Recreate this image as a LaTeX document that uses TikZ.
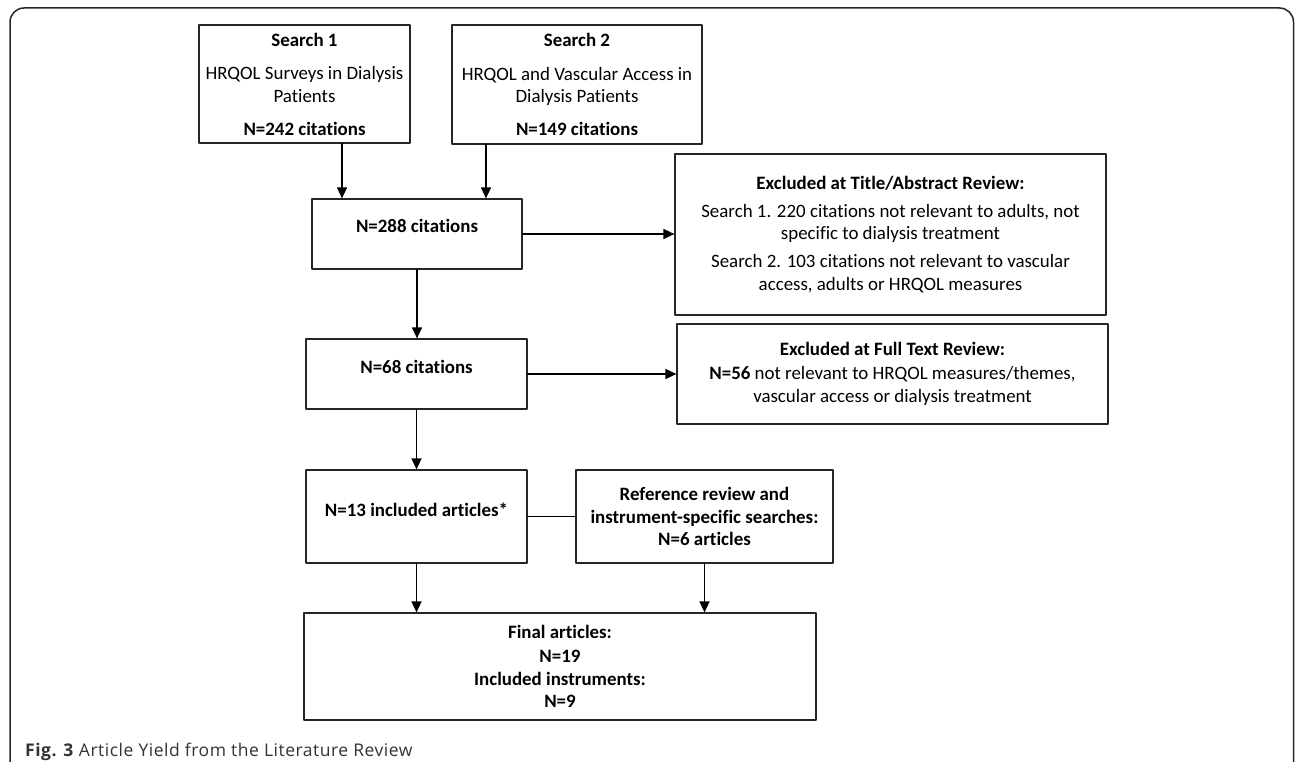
\documentclass[tikz,border=0pt]{standalone}
\usepackage{fontspec}
\setmainfont{Carlito}[Ligatures={NoCommon,TeX}]
\newfontfamily\figcapfont{Open Sans}[LetterSpace=3]
\usetikzlibrary{arrows.meta}

\tikzset{
  flowbox/.style={draw=black!85, line width=1.2pt, inner sep=0pt, align=center,
    font=\fontsize{18.9}{22.5}\selectfont},
  hightext/.style={text height=13pt, text depth=#1},
  flowarrow/.style={->, line width=1.5pt},
}

\begin{document}
\begin{tikzpicture}[x=1pt,y=-1pt,line cap=round,line join=round,>={Triangle[length=11pt,width=10pt]}]
        \useasboundingbox (0,0) rectangle (1295,762);
        \clip (0,0) rectangle (1295,762);
        % outer frame
        \draw[rounded corners=14pt, line width=1.5pt, color=black!85] (10,8) rectangle (1293.5,776);
        % searches
        \node[flowbox, minimum width=211pt, minimum height=118pt] (search1) at (304.5,84)
          {\textbf{Search 1}\\[11pt] HRQOL Surveys in Dialysis\\ Patients\\[10.5pt] \textbf{N=242 citations}};
        \node[flowbox, minimum width=250pt, minimum height=119pt] (search2) at (577,84.5)
          {\textbf{Search 2}\\[11pt] HRQOL and Vascular Access in\\ Dialysis Patients\\[10.5pt] \textbf{N=149 citations}};
        % main column
        \node[flowbox, hightext=15pt, minimum width=210pt, minimum height=70pt] (n288) at (417,234) {\textbf{N=288 citations}};
        \node[flowbox, hightext=15pt, minimum width=221pt, minimum height=70pt] (n68) at (416.5,374) {\textbf{N=68 citations}};
        \node[flowbox, hightext=14pt, minimum width=221pt, minimum height=93pt] (n13) at (416.5,516.5) {\textbf{N=13 included articles*}};
        \node[flowbox, minimum width=257pt, minimum height=93pt] (refrev) at (704.5,516.5)
          {\textbf{Reference review and}\\[0.5pt] \textbf{instrument-specific searches:}\\[-0.5pt] \textbf{N=6 articles}};
        \node[flowbox, minimum width=512pt, minimum height=107pt] (final) at (560,666.5)
          {\textbf{Final articles:}\\[1pt] \textbf{N=19}\\[0.5pt] \textbf{Included instruments:}\\[-0.5pt] \textbf{N=9}};
        % exclusions
        \node[flowbox, minimum width=431pt, minimum height=161pt] (extitle) at (890.5,234.5)
          {\textbf{Excluded at Title/Abstract Review:}\\[5.5pt] Search 1. 220 citations not relevant to adults, not\\ specific to dialysis treatment\\[5.5pt] Search 2. 103 citations not relevant to vascular\\ access, adults or HRQOL measures};
        \node[flowbox, minimum width=431pt, minimum height=100pt] (exfull) at (892.5,374)
          {\textbf{Excluded at Full Text Review:}\\[1.5pt] \textbf{N=56} not relevant to HRQOL measures/themes,\\ vascular access or dialysis treatment};
        % connectors
        \draw[flowarrow] ([xshift=37.5pt]search1.south) -- ([xshift=-75pt]n288.north);
        \draw[flowarrow] ([xshift=-91pt]search2.south) -- ([xshift=69pt]n288.north);
        \draw[flowarrow] (n288.east) -- (n288.east -| extitle.west);
        \draw[flowarrow] (n288.south) -- (n288.south |- n68.north);
        \draw[flowarrow] (n68.east) -- (n68.east -| exfull.west);
        \draw[flowarrow] (n68.south) -- (n68.south |- n13.north);
        \draw[line width=1.2pt] (n13.east) -- (refrev.west);
        \draw[flowarrow] (n13.south) -- (n13.south |- final.north);
        \draw[flowarrow] (refrev.south) -- (refrev.south |- final.north);
        % caption
        \node[anchor=base west, inner sep=0pt, font=\figcapfont\fontsize{17.5}{20}\selectfont, text=black!80] (figcap) at (25,756)
          {\textbf{Fig. 3} Article Yield from the Literature Review};
\end{tikzpicture}
\end{document}
